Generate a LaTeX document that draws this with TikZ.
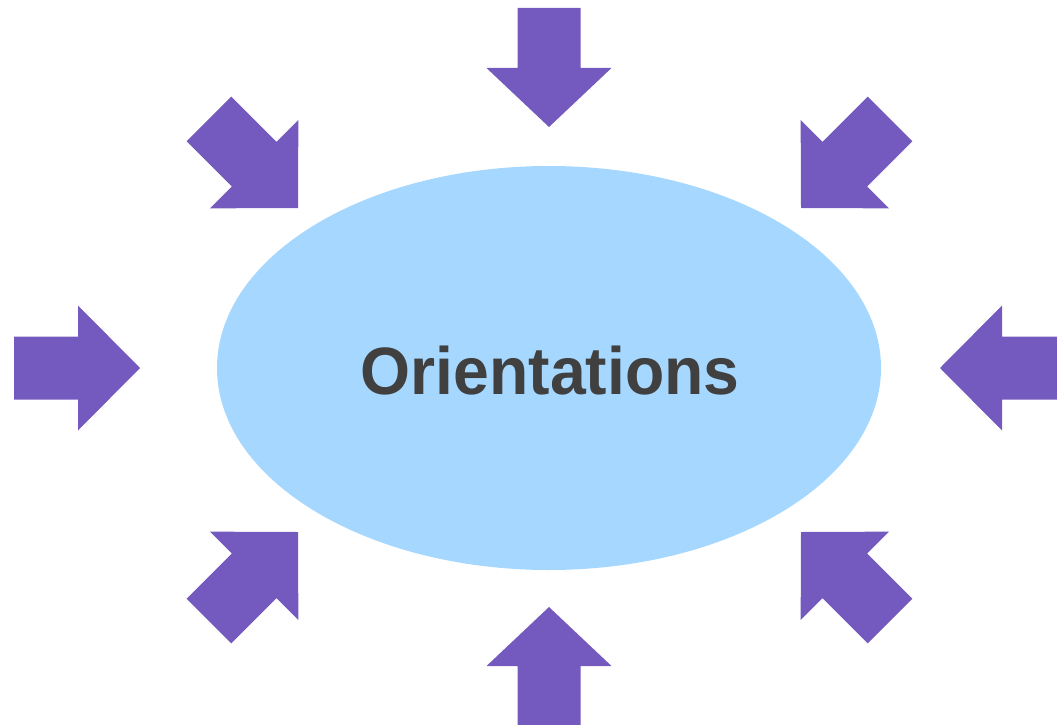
\documentclass[tikz,border=0pt]{standalone}
\usepackage{fontspec}
\setmainfont{Liberation Sans}
\definecolor{arrowpurple}{RGB}{116,90,190}
\definecolor{ellblue}{RGB}{166,216,255}
\definecolor{txtgray}{RGB}{64,64,64}
\usetikzlibrary{shapes.geometric}
\tikzset{
  bigarrow/.style={fill=arrowpurple, draw=none},
  hub/.style={ellipse, fill=ellblue, draw=none, minimum width=664pt, minimum height=404pt, inner sep=0pt},
}
% #1 tip x, #2 tip y, #3 angle, #4 head depth, #5 total length
\newcommand{\purplearrow}[5]{%
  \begin{scope}[shift={(#1,#2)}, rotate=#3]
    \fill[bigarrow] (0,0) -- (-#4,62.5) -- (-#4,31.5) -- (-#5,31.5) -- (-#5,-31.5) -- (-#4,-31.5) -- (-#4,-62.5) -- cycle;
  \end{scope}}
\begin{document}
\begin{tikzpicture}[x=1pt,y=-1pt]
  \useasboundingbox (0,0) rectangle (1057,725);
  \node[hub] (hub) at (549,368) {};
  \node[anchor=base, text=txtgray, font=\bfseries\fontsize{67}{67}\selectfont, inner sep=0pt] (label) at (550,394.5) {\scalebox{0.96}[1]{Orientations}};
  % straight arrows
  \purplearrow{549}{127}{-90}{59}{119}
  \purplearrow{549}{607}{90}{59}{125}
  \purplearrow{140}{368}{0}{62}{126}
  \purplearrow{940}{368}{180}{62}{126}
  % diagonal arrows
  \purplearrow{298}{208}{-45}{62}{126}
  \purplearrow{801}{208}{-135}{62}{126}
  \purplearrow{298}{532}{45}{62}{126}
  \purplearrow{801}{532}{135}{62}{126}
\end{tikzpicture}
\end{document}
